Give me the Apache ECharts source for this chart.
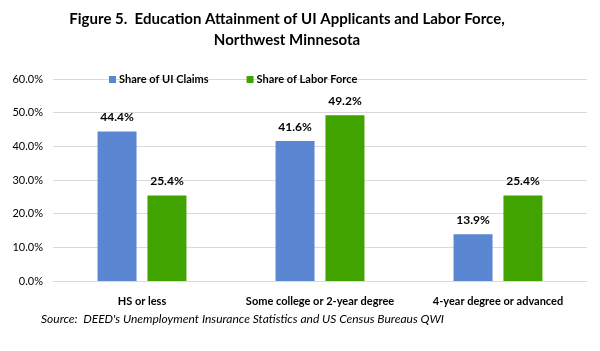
<!DOCTYPE html>
<html>
	<head>
		<meta charset="UTF-8">
		<title>Figure 5</title>
		<script src="https://cdn.jsdelivr.net/npm/echarts@6/dist/echarts.min.js"></script>
		<style>
			html, body { margin: 0; padding: 0; background: #fff; }
			#chart { width: 600px; height: 351px; }
		</style>
	</head>
	<body>
		<div id="chart"></div>
		<script>
			// 数据
			var categories = ['HS or less', 'Some college or 2-year degree', '4-year degree or advanced'];
			var uiClaims = [44.4, 41.6, 13.9];
			var laborForce = [25.4, 49.2, 25.4];
			var seriesNames = ['Share of UI Claims', 'Share of Labor Force'];

			var font = 'Lato, "Open Sans", sans-serif';
			var myChart = echarts.init(document.getElementById('chart'));

			var labelStyle = {
				show: true,
				position: 'top',
				distance: 8,
				color: '#000',
				fontWeight: 'bold',
				fontSize: 12,
				fontFamily: font,
				formatter: function (p) { return p.value.toFixed(1) + '%'; }
			};

			var option = {
				animation: false,
				title: [{
					text: 'Figure 5.  Education Attainment of UI Applicants and Labor Force,\nNorthwest Minnesota',
					left: 282,
					top: 4,
					textAlign: 'center',
					textStyle: { fontFamily: font, fontSize: 15, fontWeight: 'bold', color: '#000', lineHeight: 21 }
				}, {
					text: "Source:  DEED's Unemployment Insurance Statistics and US Census Bureaus QWI",
					left: 36,
					top: 308,
					textStyle: { fontFamily: font, fontSize: 12, fontStyle: 'italic', fontWeight: 'normal', color: '#000' }
				}],
				legend: {
					data: seriesNames,
					left: 104,
					top: 69,
					itemWidth: 7,
					itemHeight: 7,
					itemGap: 38,
					icon: 'rect',
					textStyle: { fontFamily: font, fontSize: 11, fontWeight: 'bold', color: '#000', padding: [0, 0, 0, -2] }
				},
				grid: { left: 53, right: 13, top: 79, bottom: 70 },
				xAxis: {
					type: 'category',
					data: categories,
					axisTick: { show: false },
					axisLine: { show: true, lineStyle: { color: '#d9d9d9' } },
					axisLabel: { color: '#000', fontFamily: font, fontSize: 11, fontWeight: 'bold', margin: 15, interval: 0 }
				},
				yAxis: {
					type: 'value',
					min: 0,
					max: 60,
					interval: 10,
					axisLine: { show: false },
					axisTick: { show: false },
					splitLine: { lineStyle: { color: '#d9d9d9' } },
					axisLabel: {
						color: '#000', fontFamily: font, fontSize: 11, margin: 10,
						formatter: function (v) { return v.toFixed(1) + '%'; }
					}
				},
				series: [{
					name: seriesNames[0],
					type: 'bar',
					data: uiClaims,
					barWidth: 39,
					barGap: '28%',
					itemStyle: { color: '#5b86d2' },
					label: labelStyle
				}, {
					name: seriesNames[1],
					type: 'bar',
					data: laborForce,
					barWidth: 39,
					itemStyle: { color: '#41a300' },
					label: labelStyle
				}]
			};

			myChart.setOption(option);
		</script>
	</body>
</html>
